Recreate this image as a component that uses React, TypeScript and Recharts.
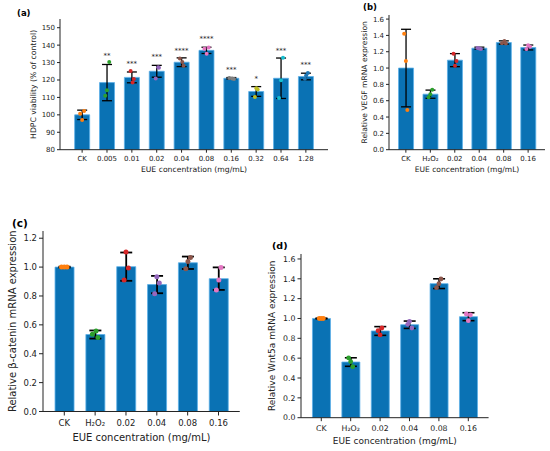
import { ComposedChart, Bar, ErrorBar, Scatter, XAxis, YAxis } from "recharts";

const FONT = "'DejaVu Sans', Verdana, sans-serif";
const INK = "#222";
const BAR_FILL = "#0a72b4";
const BAR_EDGE = "#5cb0e8";
const DOT_COLORS = ["#ff7f0e", "#2ca02c", "#d62728", "#9467bd", "#8c564b", "#e377c2", "#7f7f7f", "#bcbd22", "#17becf", "#1f77b4"];

// (a) HDPC viability
const catsA = ["CK", "0.005", "0.01", "0.02", "0.04", "0.08", "0.16", "0.32", "0.64", "1.28"];
const meanA = [100, 118.5, 121.5, 125, 130.2, 137, 121, 113.4, 121, 122];
const errA = [2.7, 10.4, 3.1, 3.4, 2.5, 1.8, 0.4, 2.8, 11.6, 1.9];
const dotsA = [
  [[0.08, 102.2], [-0.08, 100.6], [0, 97]],
  [[0.09, 130.3], [0, 114.1], [-0.07, 110.9]],
  [[-0.05, 125.1], [0.08, 120.5], [0.03, 118.6]],
  [[0.06, 127.3], [0.09, 127], [-0.04, 120.8]],
  [[-0.07, 132.4], [0.03, 130.3], [0.08, 128.2]],
  [[-0.08, 138], [0.09, 138.6], [0.01, 135]],
  [[-0.08, 121.1], [0.03, 120.8], [0.11, 120.6]],
  [[0.01, 115.3], [0.06, 114.6], [-0.05, 110.3]],
  [[0.08, 132.8], [0, 119.9], [-0.08, 109.7]],
  [[0.08, 124], [0.01, 122.6], [-0.04, 120.7]],
];
const starsA = ["", "**", "***", "***", "****", "****", "***", "*", "***", "***"];
const starYA = [0, 134.8, 130.5, 134.2, 138, 144.8, 126.7, 122, 137.9, 129.6];
const yTicksA = [80, 90, 100, 110, 120, 130, 140, 150];

// (b) VEGF
const catsB = ["CK", "H₂O₂", "0.02", "0.04", "0.08", "0.16"];
const meanB = [1.0, 0.68, 1.097, 1.244, 1.313, 1.252];
const errB = [0.475, 0.05, 0.08, 0.012, 0.02, 0.03];
const dotsB = [
  [[-0.07, 1.42], [0, 1.088], [0.06, 0.486]],
  [[0.08, 0.733], [0, 0.68], [-0.07, 0.643]],
  [[-0.05, 1.174], [0.07, 1.085], [0.01, 1.027]],
  [[-0.07, 1.245], [0, 1.24], [0.07, 1.232]],
  [[-0.07, 1.305], [0.03, 1.33], [0.09, 1.3]],
  [[-0.07, 1.235], [0, 1.28], [0.08, 1.26]],
];

// (c) beta-catenin
const catsC = ["CK", "H₂O₂", "0.02", "0.04", "0.08", "0.16"];
const meanC = [1.0, 0.533, 1.003, 0.879, 1.03, 0.92];
const errC = [0.003, 0.028, 0.098, 0.06, 0.043, 0.078];
const dotsC = [
  [[-0.09, 1.0], [0, 1.0], [0.09, 1.0]],
  [[-0.09, 0.535], [0.03, 0.557], [0.09, 0.512]],
  [[0, 1.104], [0.08, 0.994], [-0.06, 0.911]],
  [[0, 0.934], [0.08, 0.89], [-0.07, 0.815]],
  [[0.09, 1.067], [0.01, 1.039], [-0.06, 0.989]],
  [[0.08, 0.998], [0.01, 0.911], [-0.07, 0.842]],
];

// (d) Wnt5a
const catsD = ["CK", "H₂O₂", "0.02", "0.04", "0.08", "0.16"];
const meanD = [1.0, 0.561, 0.874, 0.937, 1.351, 1.018];
const errD = [0.003, 0.043, 0.044, 0.037, 0.049, 0.04];
const dotsD = [
  [[-0.07, 1.0], [0, 1.0], [0.07, 1.0]],
  [[-0.07, 0.602], [0, 0.565], [0.07, 0.514]],
  [[0.06, 0.904], [-0.07, 0.877], [0, 0.834]],
  [[0, 0.971], [-0.06, 0.941], [0.08, 0.904]],
  [[0.07, 1.398], [0, 1.351], [-0.08, 1.311]],
  [[-0.07, 1.045], [0.07, 1.035], [0, 0.978]],
];

const yTicksBD = [0, 0.2, 0.4, 0.6, 0.8, 1.0, 1.2, 1.4, 1.6];
const yTicksC = [0, 0.2, 0.4, 0.6, 0.8, 1.0, 1.2];

type Geo = {
  plotLeft: number;
  plotTop: number;
  plotW: number;
  plotH: number;
  yWidth: number;
  xHeight: number;
  yLabelX: number;
  tickFont: number;
  titleFont: number;
  tickSize: number;
  tickMargin: number;
  cap: number;
  errWidth: number;
  dotR: number;
};

type PanelProps = {
  cats: string[];
  mean: number[];
  err: number[];
  dots: number[][][];
  stars?: string[];
  starY?: number[];
  yDomain: [number, number];
  yTicks: number[];
  decimals: number;
  yLabel: string;
  geo: Geo;
};

function Panel({ cats, mean, err, dots, stars, starY, yDomain, yTicks, decimals, yLabel, geo }: PanelProps) {
  const n = cats.length;
  // matplotlib default 5% x-margin around bars of width 0.8
  const pad = 0.05 * (n - 1 + 0.8);
  const xDomain: [number, number] = [-0.4 - pad, n - 1 + 0.4 + pad];
  const unit = geo.plotW / (xDomain[1] - xDomain[0]);
  const sidePad = (geo.plotW - n * unit) / 2;

  const rows = cats.map((name, i) => ({ name, mean: mean[i], err: err[i] }));
  const pts = dots.flatMap((g, i) => g.map(([dx, y]) => ({ x: i + dx, y, c: i })));
  const starPts = stars
    ? stars.map((s, i) => ({ x: i, y: starY ? starY[i] : 0, s })).filter((p) => p.s)
    : [];

  const mTop = 2;
  const mRight = 2;
  const mBottom = 5;
  const width = geo.yWidth + geo.plotW + mRight;
  const height = mTop + geo.plotH + geo.xHeight + mBottom;

  return (
    <div style={{ position: "absolute", left: geo.plotLeft - geo.yWidth, top: geo.plotTop - mTop }}>
      <ComposedChart
        width={width}
        height={height}
        data={rows}
        barCategoryGap="20%"
        margin={{ top: mTop, right: mRight, left: 0, bottom: mBottom }}
      >
        <XAxis
          dataKey="name"
          type="category"
          interval={0}
          padding={{ left: sidePad, right: sidePad }}
          height={geo.xHeight}
          tick={{ fontSize: geo.tickFont, fill: INK, fontFamily: FONT }}
          tickSize={geo.tickSize}
          tickMargin={geo.tickMargin}
          axisLine={{ stroke: INK }}
          tickLine={{ stroke: INK }}
          label={{
            value: "EUE concentration (mg/mL)",
            position: "insideBottom",
            offset: 0,
            style: { fontSize: geo.titleFont, fill: INK, fontFamily: FONT },
          }}
        />
        <XAxis xAxisId="num" dataKey="x" type="number" domain={xDomain} allowDataOverflow hide />
        <YAxis
          type="number"
          domain={yDomain}
          allowDataOverflow
          ticks={yTicks}
          interval={0}
          width={geo.yWidth}
          tickFormatter={(v) => Number(v).toFixed(decimals)}
          tick={{ fontSize: geo.tickFont, fill: INK, fontFamily: FONT }}
          tickSize={geo.tickSize}
          tickMargin={2}
          axisLine={{ stroke: INK }}
          tickLine={{ stroke: INK }}
          label={{
            value: yLabel,
            angle: -90,
            position: "insideLeft",
            offset: geo.yLabelX,
            style: { textAnchor: "middle", fontSize: geo.titleFont, fill: INK, fontFamily: FONT },
          }}
        />
        <Bar dataKey="mean" fill={BAR_FILL} stroke={BAR_EDGE} strokeWidth={0.8} isAnimationActive={false}>
          <ErrorBar dataKey="err" width={geo.cap} strokeWidth={geo.errWidth} stroke="#000" isAnimationActive={false} />
        </Bar>
        <Scatter
          xAxisId="num"
          data={pts}
          dataKey="y"
          isAnimationActive={false}
          shape={(p: any) => <circle cx={p.cx} cy={p.cy} r={geo.dotR} fill={DOT_COLORS[p.payload.c]} />}
        />
        {starPts.length > 0 && (
          <Scatter
            xAxisId="num"
            data={starPts}
            dataKey="y"
            isAnimationActive={false}
            shape={(p: any) => (
              <text x={p.cx} y={p.cy + 4} textAnchor="middle" fontSize={7} fill={INK} fontFamily={FONT}>
                {p.payload.s}
              </text>
            )}
          />
        )}
      </ComposedChart>
    </div>
  );
}

const geoA: Geo = {
  plotLeft: 60, plotTop: 19, plotW: 268, plotH: 130.7, yWidth: 60, xHeight: 22.3, yLabelX: 33,
  tickFont: 7, titleFont: 7.7, tickSize: 3, tickMargin: 3, cap: 5, errWidth: 1.3, dotR: 2,
};
const geoB: Geo = {
  plotLeft: 389, plotTop: 15, plotW: 156, plotH: 134.7, yWidth: 40, xHeight: 22.5, yLabelX: 15,
  tickFont: 7, titleFont: 7.6, tickSize: 3, tickMargin: 3, cap: 5, errWidth: 1.3, dotR: 2,
};
const geoC: Geo = {
  plotLeft: 42.7, plotTop: 230.7, plotW: 196.8, plotH: 180.5, yWidth: 42, xHeight: 29.7, yLabelX: 11,
  tickFont: 8.5, titleFont: 10, tickSize: 4, tickMargin: 4.5, cap: 6, errWidth: 1.8, dotR: 2.5,
};
const geoD: Geo = {
  plotLeft: 300.7, plotTop: 254.3, plotW: 187.6, plotH: 163.7, yWidth: 40, xHeight: 26, yLabelX: 11,
  tickFont: 7.8, titleFont: 9, tickSize: 3.5, tickMargin: 4.5, cap: 6, errWidth: 1.6, dotR: 2.4,
};

export default function App() {
  return (
    <div style={{ position: "absolute", left: 0, top: 0, width: 550, height: 451, background: "#fff", overflow: "hidden", fontFamily: FONT }}>
      <Panel cats={catsA} mean={meanA} err={errA} dots={dotsA} stars={starsA} starY={starYA}
        yDomain={[80, 155]} yTicks={yTicksA} decimals={0} yLabel="HDPC viability (% of control)" geo={geoA} />
      <Panel cats={catsB} mean={meanB} err={errB} dots={dotsB}
        yDomain={[0, 1.65]} yTicks={yTicksBD} decimals={1} yLabel="Relative VEGF mRNA expression" geo={geoB} />
      <Panel cats={catsC} mean={meanC} err={errC} dots={dotsC}
        yDomain={[0, 1.25]} yTicks={yTicksC} decimals={1} yLabel="Relative β-catenin mRNA expression" geo={geoC} />
      <Panel cats={catsD} mean={meanD} err={errD} dots={dotsD}
        yDomain={[0, 1.65]} yTicks={yTicksBD} decimals={1} yLabel="Relative Wnt5a mRNA expression" geo={geoD} />
      <svg width={550} height={451} style={{ position: "absolute", left: 0, top: 0, pointerEvents: "none" }}>
        <g fontFamily={FONT} fontWeight="bold" fill="#000">
          <text x={17} y={16} fontSize={8.5}>(a)</text>
          <text x={363} y={10} fontSize={8.5}>(b)</text>
          <text x={12} y={227} fontSize={10.5}>(c)</text>
          <text x={272} y={249} fontSize={9.5}>(d)</text>
        </g>
      </svg>
    </div>
  );
}
